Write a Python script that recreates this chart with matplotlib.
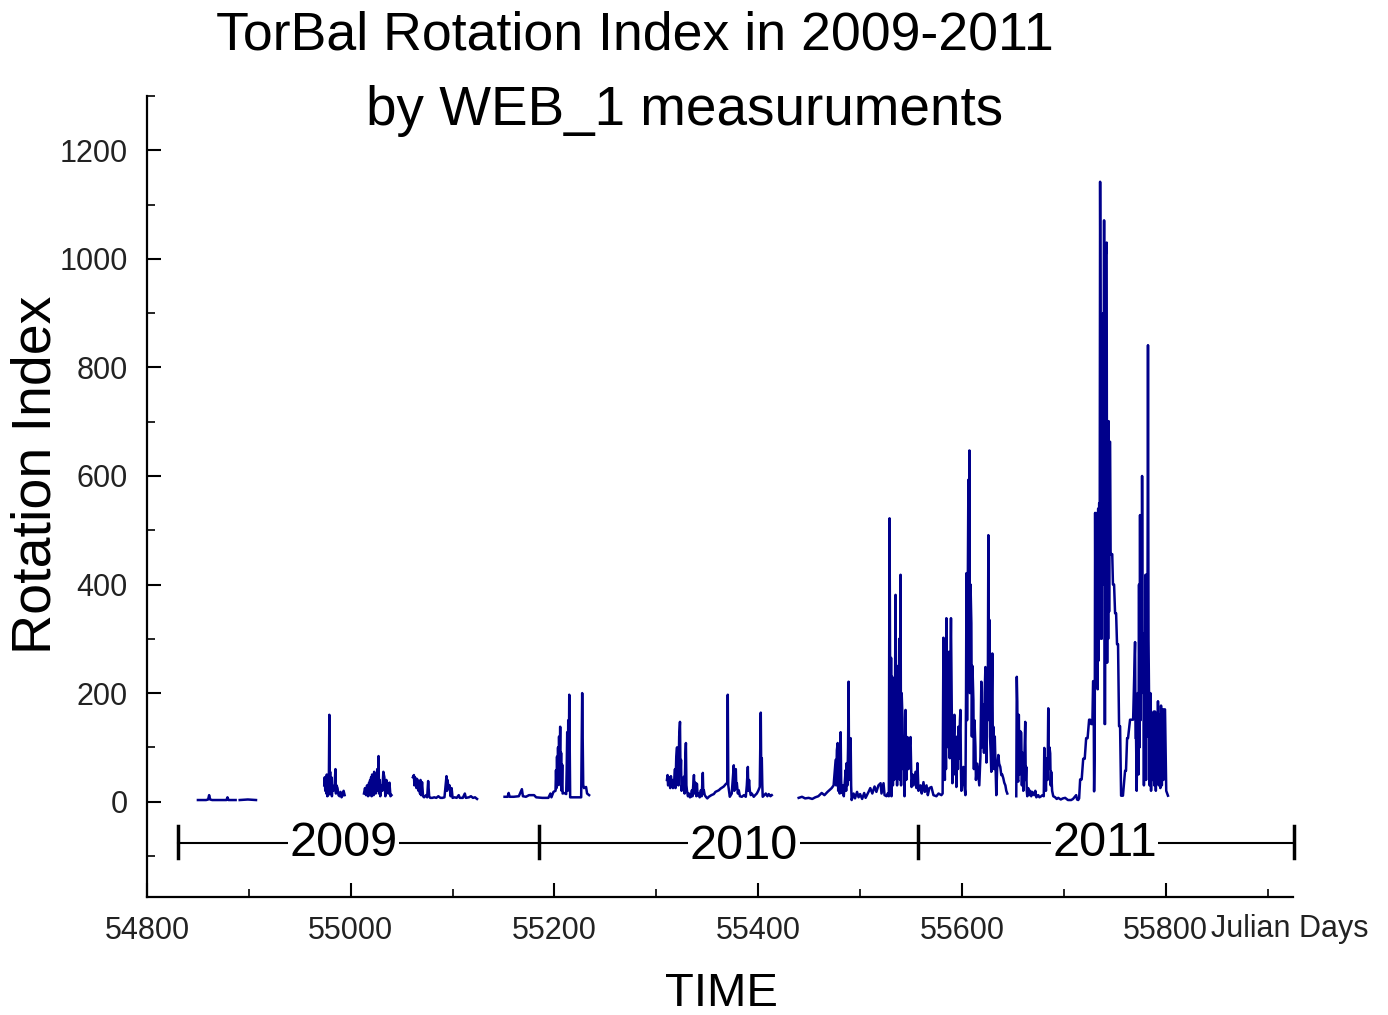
import numpy as np
import matplotlib
matplotlib.use("Agg")
import matplotlib.pyplot as plt
from matplotlib.ticker import MultipleLocator
import matplotlib.transforms as mtransforms

plt.rcParams["font.family"] = ["Liberation Sans", "DejaVu Sans"]

# --- data (Julian days, rotation index) ---
days_a1 = [54850, 54858, 54860, 54861, 54862, 54864, 54872, 54878, 54879, 54880, 54887]
vals_a1 = [3, 3, 4, 12, 4, 3, 3, 3, 8, 3, 3]
days_a2 = [54891, 54899, 54907]
vals_a2 = [3, 4, 3]

days_b = [54974, 54974.5, 54975, 54975.5, 54976, 54976.5, 54977, 54977.5, 54978, 54978.5,
          54979, 54979.3, 54979.8, 54980.3, 54981, 54981.5, 54982, 54983, 54984, 54985,
          54985.5, 54986, 54987, 54988, 54989, 54990, 54991, 54992, 54993, 54994]
vals_b = [30, 45, 20, 40, 15, 50, 10, 35, 12, 30,
          160, 20, 55, 15, 45, 10, 30, 20, 25, 60,
          15, 30, 25, 12, 10, 18, 8, 12, 20, 12]

days_c = [55013, 55014, 55015, 55016, 55017, 55018, 55018.5, 55019, 55019.5, 55020,
          55020.5, 55021, 55021.5, 55022, 55022.5, 55023, 55023.5, 55024, 55024.5, 55025,
          55025.5, 55026, 55026.5, 55027.3, 55027.8, 55028.5, 55029, 55030, 55031, 55032,
          55033, 55034, 55035, 55036, 55037, 55038, 55039, 55040]
vals_c = [15, 25, 12, 30, 10, 35, 12, 40, 15, 45,
          10, 50, 20, 38, 12, 55, 20, 45, 15, 50,
          25, 60, 20, 84, 15, 40, 10, 30, 20, 55,
          45, 10, 40, 30, 15, 35, 10, 12]

days_d = [55061, 55062, 55062.5, 55063, 55064, 55064.5, 55065, 55066, 55066.5, 55067,
          55068, 55068.5, 55069, 55070, 55071, 55072, 55074, 55075, 55076, 55077,
          55078, 55080, 55082, 55084, 55086, 55088, 55090, 55092, 55094, 55094.5,
          55095, 55096, 55097, 55098, 55099, 55100, 55102, 55104, 55106, 55107,
          55110, 55112, 55113, 55116, 55118, 55120, 55122, 55124]
vals_d = [45, 49, 30, 45, 40, 25, 42, 38, 20, 35,
          15, 40, 12, 36, 10, 8, 12, 8, 38, 10,
          7, 7, 8, 7, 10, 7, 7, 8, 47, 20,
          40, 25, 30, 10, 25, 7, 8, 7, 12, 7,
          7, 15, 7, 8, 10, 7, 8, 5]

days_e = [55151, 55154, 55155, 55156, 55160, 55165, 55168, 55169, 55172, 55175,
          55180, 55182, 55188, 55194, 55196, 55197, 55199, 55201, 55201.5, 55202,
          55202.5, 55203, 55203.5, 55204, 55204.5, 55205, 55205.6, 55206, 55206.5, 55207,
          55207.6, 55208, 55209.5, 55211.5, 55212, 55212.5, 55213, 55213.5, 55214, 55214.5,
          55215.4, 55216.4, 55220, 55226.2, 55227.2, 55228.2, 55229, 55231, 55232, 55234]
vals_e = [9, 9, 16, 9, 9, 10, 23, 10, 9, 12,
          12, 8, 7, 7, 15, 8, 18, 20, 58, 25,
          83, 30, 100, 40, 120, 50, 138, 30, 90, 20,
          68, 15, 16, 14, 60, 128, 20, 150, 40, 197,
          8, 8, 8, 8, 200, 31, 25, 27, 15, 12]

days_f = [55310.4, 55311, 55311.5, 55312.4, 55313, 55313.6, 55314.3, 55315, 55315.6, 55316.3,
          55317.2, 55318.3, 55318.8, 55319.5, 55320.3, 55320.8, 55321.2, 55321.7, 55322.4, 55323.2,
          55323.7, 55324.2, 55324.7, 55325.1, 55326, 55327.1, 55327.7, 55328.4, 55329.0, 55329.5,
          55330.0, 55331, 55332.0, 55333, 55333.9, 55334.9, 55335.5, 55336.2, 55336.9, 55337.5,
          55338.2, 55338.8, 55339.3, 55339.8, 55340.5, 55341.7, 55342.5, 55343.7, 55344.5, 55345.0,
          55345.6, 55346.1, 55346.6, 55347.5, 55348.6, 55350, 55351.5, 55354, 55356.4, 55358,
          55361.3, 55363, 55366.2, 55368, 55369.1, 55369.6, 55370.1, 55370.6, 55372.1, 55374,
          55376.0, 55376.5, 55377.2, 55378.0, 55378.5, 55379.0, 55380, 55380.9, 55382, 55383.9,
          55386, 55387.8, 55388.8, 55389.8, 55390.3, 55391.0, 55391.7, 55392.7, 55393.7, 55395.6,
          55397, 55398.6, 55400, 55401.5, 55402.0, 55402.5, 55403.0, 55403.5, 55404.0, 55404.4,
          55406, 55407.4, 55409, 55410.3, 55412, 55413.3]
vals_f = [40, 49, 30, 36, 45, 25, 47, 30, 40, 25,
          30, 60, 25, 80, 100, 40, 80, 30, 120, 147,
          50, 77, 20, 27, 40, 46, 15, 80, 108, 30,
          21, 10, 15, 8, 9, 21, 10, 30, 49, 15,
          35, 27, 10, 33, 12, 15, 8, 21, 10, 30,
          53, 15, 21, 12, 9, 6, 9, 12, 14, 18,
          21, 24, 28, 32, 34, 34, 197, 30, 9, 15,
          67, 20, 50, 60, 25, 34, 15, 21, 10, 9,
          12, 9, 30, 64, 20, 40, 21, 12, 15, 9,
          12, 15, 20, 27, 100, 164, 40, 80, 30, 9,
          12, 15, 10, 14, 10, 12]

days_g = [55439.7, 55443, 55446, 55449.5, 55453, 55456, 55459, 55462.3, 55465, 55468,
          55472.1, 55474, 55476.0, 55476.5, 55477.2, 55478.0, 55478.5, 55479.3, 55480, 55480.9,
          55481.4, 55481.9, 55483, 55484, 55485.8, 55486.3, 55486.8, 55487.5, 55488.2, 55488.7,
          55489.2, 55490, 55490.7, 55491.2, 55491.7, 55493.6, 55495, 55497, 55498.5, 55500,
          55502, 55504, 55505.4, 55508.3, 55510, 55512, 55514.2, 55516, 55518, 55520.1,
          55521, 55523.0, 55524, 55526.0, 55527, 55528.2, 55528.9, 55529.4, 55529.9, 55530.4,
          55530.8, 55531.5, 55532.2, 55532.8, 55533.4, 55534.2, 55534.8, 55535.2, 55535.7, 55536.3,
          55537, 55537.7, 55538.4, 55539.2, 55539.7, 55540.2, 55540.8, 55541.6, 55542.3, 55543.0,
          55543.6, 55544.6, 55545.3, 55546.5, 55547.5, 55548.5, 55549.5, 55550.5, 55551.5, 55552.5,
          55554.4, 55555.3, 55556.3, 55557.3, 55559.3, 55560.5, 55562.2, 55563.5, 55565.2, 55566.5,
          55568, 55570.0, 55572, 55574.9, 55577, 55579.8, 55581.0, 55581.8, 55582.5, 55583.2,
          55583.8, 55584.3, 55584.7, 55585.3, 55586.0, 55586.7, 55587.3, 55588.0, 55588.7, 55589.2,
          55589.6, 55590.1, 55590.6, 55591.5, 55592.6, 55593.3, 55594.0, 55594.5, 55595.3, 55596.0,
          55596.5, 55597.3, 55598.0, 55598.5, 55599.0, 55599.4, 55600.3, 55601.4, 55602.3, 55603.4,
          55604.0, 55604.4, 55605.0, 55605.6, 55606.3, 55606.8, 55607.3, 55607.8, 55608.4, 55609.2,
          55609.7, 55610.3, 55611.2, 55611.7, 55612.3, 55613.2, 55613.7, 55614.1, 55615, 55616.1,
          55617, 55618.1, 55618.6, 55619.0, 55619.5, 55620.2, 55621.0, 55621.6, 55622.3, 55623.0,
          55623.5, 55624.0, 55624.6, 55625.3, 55625.9, 55626.4, 55626.9, 55627.5, 55628.2, 55628.8,
          55629.3, 55629.8, 55630.3, 55630.8, 55631.5, 55632.2, 55632.8, 55633.3, 55633.7, 55634.5,
          55635.7, 55636.5, 55637.6, 55638.6, 55639.5, 55640.6, 55641.5, 55642.6, 55643.5, 55644.5]
vals_g = [7, 9, 6, 7, 5, 8, 10, 16, 12, 18,
          25, 30, 77, 30, 95, 108, 20, 60, 15, 128,
          40, 16, 30, 10, 58, 20, 71, 30, 100, 221,
          40, 90, 117, 30, 3, 15, 6, 18, 8, 14,
          5, 16, 7, 18, 25, 15, 28, 18, 30, 34,
          15, 34, 12, 10, 15, 10, 522, 265, 20, 265,
          10, 230, 30, 200, 40, 180, 381, 50, 224, 30,
          250, 60, 300, 40, 418, 30, 200, 154, 60, 120,
          10, 169, 40, 119, 60, 100, 119, 27, 50, 30,
          55, 25, 71, 20, 30, 15, 36, 18, 30, 12,
          25, 27, 12, 10, 15, 12, 15, 302, 120, 40,
          233, 60, 338, 150, 276, 100, 276, 80, 257, 338,
          250, 150, 34, 100, 160, 50, 100, 27, 120, 60,
          138, 80, 150, 169, 60, 20, 40, 64, 30, 12,
          200, 421, 150, 350, 593, 250, 647, 200, 400, 329,
          120, 250, 187, 60, 150, 101, 40, 49, 70, 49,
          30, 83, 160, 221, 100, 180, 150, 90, 200, 248,
          120, 72, 200, 150, 491, 200, 335, 120, 90, 55,
          200, 273, 100, 138, 60, 120, 77, 40, 12, 60,
          86, 70, 64, 49, 50, 43, 35, 30, 20, 15]

days_h = [55653.3, 55653.8, 55654.3, 55654.8, 55655.3, 55655.8, 55656.5, 55657.2, 55658.2, 55658.8,
          55659.5, 55660.2, 55661.0, 55662.1, 55662.6, 55663.1, 55663.6, 55664.1, 55665, 55666,
          55667, 55668, 55669, 55670.9, 55672, 55673, 55674.9, 55676, 55677.8, 55679,
          55680.3, 55680.8, 55681.2, 55681.7, 55682.4, 55683.2, 55684.0, 55684.7, 55685.2, 55685.9,
          55686.6, 55687.1, 55687.6, 55688.5, 55689.6, 55691.5, 55693, 55694.5, 55697, 55699,
          55701.3, 55704, 55707.2, 55709, 55712.1, 55713, 55714.1, 55715, 55716.0, 55717.5,
          55719.0, 55720.5, 55721.9, 55723.3, 55724.8, 55725.8, 55726.8, 55728.0, 55728.7, 55729.2,
          55729.7, 55730.3, 55730.7, 55731.2, 55731.7, 55732.2, 55732.7, 55733.2, 55733.7, 55734.2,
          55734.7, 55735.1, 55735.6, 55736.1, 55736.6, 55737.1, 55737.6, 55738.1, 55738.6, 55739.0,
          55739.5, 55740.0, 55740.5, 55741.0, 55741.5, 55742.0, 55742.5, 55743.0, 55743.5, 55744.0,
          55744.4, 55744.9, 55745.4, 55745.9, 55746.4, 55747.5, 55748.2, 55749.3, 55750.3, 55751.3,
          55752.2, 55753.2, 55754.2, 55755.2, 55756.2, 55758, 55760.1, 55761, 55762.1, 55763,
          55765.0, 55766, 55767.0, 55768, 55769.9, 55770.4, 55770.9, 55771.5, 55772.5, 55773.2,
          55773.8, 55774.3, 55774.8, 55775.3, 55775.8, 55776.3, 55776.8, 55777.3, 55778.0, 55778.6,
          55779.2, 55779.7, 55780.2, 55780.7, 55781.2, 55781.7, 55782.2, 55782.6, 55783.1, 55783.6,
          55784.2, 55785.0, 55785.6, 55786.5, 55787.3, 55788.2, 55788.8, 55789.5, 55790.3, 55791.2,
          55791.8, 55792.4, 55793.2, 55794.0, 55794.7, 55795.4, 55796.2, 55797.0, 55797.8, 55798.5,
          55799.3, 55800.5, 55802.2]
vals_h = [10, 230, 184, 40, 37, 160, 50, 130, 127, 30,
          90, 20, 60, 147, 40, 64, 20, 10, 25, 12,
          20, 10, 18, 12, 20, 8, 12, 8, 10, 12,
          10, 99, 50, 64, 20, 80, 40, 172, 60, 100,
          89, 30, 55, 20, 10, 8, 5, 7, 4, 6,
          7, 3, 3, 5, 12, 4, 3, 6, 41, 41,
          79, 79, 117, 117, 151, 151, 143, 143, 222, 222,
          19, 100, 532, 210, 530, 220, 532, 207, 540, 260,
          550, 300, 1142, 803, 803, 300, 800, 400, 900, 500,
          1071, 143, 143, 1025, 1010, 1030, 256, 600, 300, 701,
          350, 663, 663, 456, 456, 456, 400, 400, 347, 347,
          290, 290, 139, 139, 11, 11, 57, 57, 117, 117,
          151, 151, 151, 151, 294, 117, 117, 20, 200, 50,
          400, 100, 528, 150, 500, 200, 600, 309, 309, 30,
          309, 100, 418, 40, 418, 120, 420, 841, 300, 200,
          30, 200, 20, 150, 40, 166, 30, 166, 20, 150,
          40, 185, 30, 160, 25, 177, 30, 170, 40, 170,
          170, 20, 11]

segments = [(days_a1, vals_a1), (days_a2, vals_a2), (days_b, vals_b), (days_c, vals_c),
            (days_d, vals_d), (days_e, vals_e), (days_f, vals_f), (days_g, vals_g),
            (days_h, vals_h)]

# year bar along the bottom
year_edges = [54830, 55185, 55557, 55926]
year_labels = ["2009", "2010", "2011"]
year_label_days = [54993, 55386, 55740]

line_color = "#00008b"

fig = plt.figure(figsize=(13.88, 10.15), dpi=100)
ax = fig.add_axes([0.1059, 0.1166, 0.9316 - 0.1059, 0.9054 - 0.1166])

for d, v in segments:
    ax.plot(d, v, color=line_color, lw=1.8)

ax.set_xlim(54800, 55925)
ax.set_ylim(-175, 1300)

# year brackets
ax.plot([year_edges[0], year_edges[-1]], [-76, -76], color="black", lw=1.5, clip_on=False)
for xe in year_edges:
    ax.plot([xe, xe], [-45, -103], color="black", lw=2.5, clip_on=False)
for lab, xd in zip(year_labels, year_label_days):
    yy = -83 if lab == "2010" else -78
    ax.text(xd, yy, lab, fontsize=35, ha="center", va="center", color="black",
            bbox=dict(facecolor="white", edgecolor="none", pad=1), zorder=5)

for side in ["top", "right"]:
    ax.spines[side].set_visible(False)
for side in ["left", "bottom"]:
    ax.spines[side].set_linewidth(1.6)

ax.xaxis.set_minor_locator(MultipleLocator(100))
ax.yaxis.set_minor_locator(MultipleLocator(100))
ax.set_yticks([0, 200, 400, 600, 800, 1000, 1200])
ax.set_xticks([54800, 55000, 55200, 55400, 55600, 55800])
ax.tick_params(which="major", direction="in", length=10, width=1.5, labelsize=22,
               labelcolor="#222222")
ax.tick_params(which="minor", direction="in", length=5.5, width=1.2)
ax.tick_params(axis="y", pad=14)
ax.tick_params(axis="x", pad=14)

trans = mtransforms.blended_transform_factory(ax.transData, ax.transAxes)
ax.text(55844, -0.041, "Julian Days", transform=trans, fontsize=22, ha="left",
        va="center", color="#222222")

fig.text(635 / 1388, 1 - 36 / 1015, "TorBal Rotation Index in 2009-2011",
         fontsize=38.6, ha="center", va="center")
fig.text(685 / 1388, 1 - 111 / 1015, "by WEB_1 measuruments",
         fontsize=39.5, ha="center", va="center")
fig.text(37 / 1388, 1 - 475 / 1015, "Rotation Index", fontsize=40,
         rotation=90, ha="center", va="center")
fig.text(721 / 1388, 1 - 994 / 1015, "TIME", fontsize=34, ha="center", va="center")

fig.savefig("out.png", dpi=100, facecolor="white")
